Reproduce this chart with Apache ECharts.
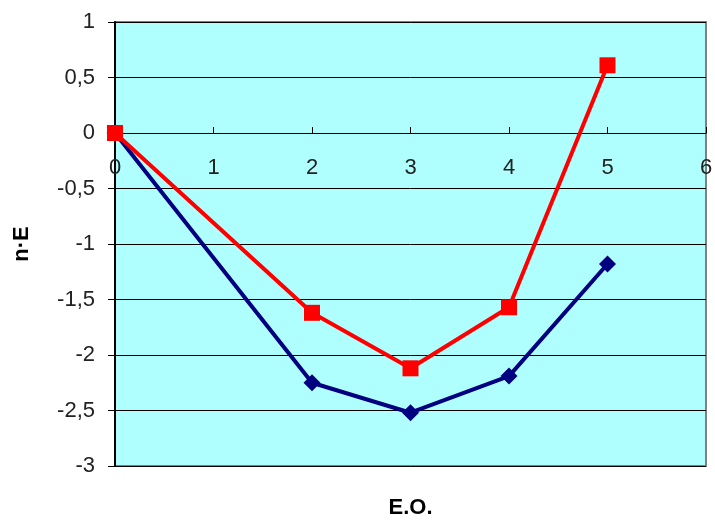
<!DOCTYPE html>
<html>
<head>
<meta charset="utf-8">
<script src="https://cdn.jsdelivr.net/npm/echarts@6/dist/echarts.min.js"></script>
<style>
html,body{margin:0;padding:0;background:#fff;}
#chart{width:715px;height:521px;}
</style>
</head>
<body>
<div id="chart"></div>
<script>
var xValues = [0, 2, 3, 4, 5];
var blueValues = [0, -2.25, -2.52, -2.19, -1.18];
var redValues = [0, -1.62, -2.12, -1.57, 0.61];
var xAxisName = 'E.O.';
var yAxisName = 'n·E';

function pairs(xs, ys) {
  return xs.map(function (x, i) { return [x, ys[i]]; });
}

var chart = echarts.init(document.getElementById('chart'));
chart.setOption({
  animation: false,
  backgroundColor: '#ffffff',
  textStyle: { fontFamily: 'Liberation Sans, Arial, sans-serif' },
  grid: {
    left: 115, top: 22, right: 9, bottom: 55,
    containLabel: false,
    outerBoundsMode: 'none',
    show: true,
    backgroundColor: '#b0ffff',
    borderColor: '#808080',
    borderWidth: 2
  },
  xAxis: {
    type: 'value',
    position: 'bottom',
    offset: -333,
    min: 0, max: 6, interval: 1,
    name: xAxisName,
    nameLocation: 'middle',
    nameGap: 364,
    nameTextStyle: { fontSize: 22, fontWeight: 'bold', color: '#000' },
    axisLine: { onZero: false, lineStyle: { color: '#000', width: 1 } },
    axisTick: { show: true, inside: true, length: 6, lineStyle: { color: '#000' } },
    axisLabel: { fontSize: 22, color: '#222', margin: 24 },
    splitLine: { show: false }
  },
  yAxis: {
    type: 'value',
    min: -3, max: 1, interval: 0.5,
    name: yAxisName,
    nameLocation: 'middle',
    nameGap: 82,
    nameRotate: 90,
    nameTextStyle: { fontSize: 22, fontWeight: 'bold', color: '#000' },
    axisLine: { show: true, onZero: false, lineStyle: { color: '#000', width: 2 } },
    axisTick: { show: true, length: 7, lineStyle: { color: '#000' } },
    axisLabel: {
      fontSize: 22, color: '#222', margin: 20,
      formatter: function (v) { return String(v).replace('.', ','); }
    },
    splitLine: { show: true, lineStyle: { color: '#000', width: 1 } }
  },
  series: [
    {
      type: 'line',
      data: pairs(xValues, blueValues),
      symbol: 'diamond',
      symbolSize: 17,
      clip: false,
      lineStyle: { color: '#000080', width: 4 },
      itemStyle: { color: '#000080' }
    },
    {
      type: 'line',
      data: pairs(xValues, redValues),
      symbol: 'rect',
      symbolSize: 16,
      clip: false,
      lineStyle: { color: '#ff0000', width: 4 },
      itemStyle: { color: '#ff0000' }
    }
  ]
});
</script>
</body>
</html>
